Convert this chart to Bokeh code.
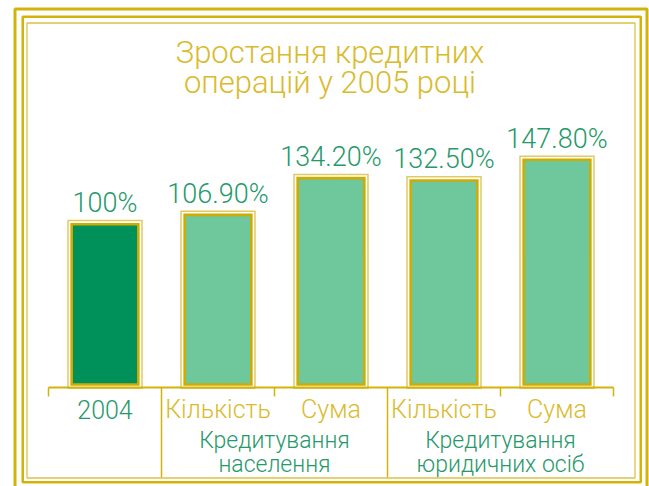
import numpy as np
from bokeh.plotting import figure
from bokeh.models import FactorRange, Range1d, ColumnDataSource, BoxAnnotation, Label
from bokeh.core.properties import value
from bokeh.embed import file_html
from bokeh.resources import INLINE

# ---------------- data ----------------
title_lines = ["Зростання кредитних", "операцій у 2005 році"]
groups = ["2004", "Кредитування населення", "Кредитування населення",
          "Кредитування юридичних осіб", "Кредитування юридичних осіб"]
items = ["2004", "Кількість", "Сума", "Кількість", "Сума"]
values = [100.0, 106.9, 134.2, 132.5, 147.8]
value_labels = ["100%", "106.90%", "134.20%", "132.50%", "147.80%"]
group_names = ["Кредитування населення", "Кредитування юридичних осіб"]
group_line1 = ["Кредитування", "Кредитування"]
group_line2 = ["населення", "юридичних осіб"]

# ---------------- style ----------------
GOLD = "#d3b20a"
GOLD_BAR = "#cfac00"
GOLD_LIGHT = "#e2ca62"
GOLD_INNER = "#dcc24a"
GOLD_TEXT = "#d9bb2c"
GREEN_TEXT = "#26996a"
DARK_FILL = "#00915a"
LIGHT_FILL = "#6fc79c"
FONT_NAME = "Roboto Light"
FONT = value(FONT_NAME)

AXIS_Y = -21.2
BAR_BASE = -19.0
H = 486

factors = list(zip(groups, items))
bar_fill = [DARK_FILL] + [LIGHT_FILL] * (len(items) - 1)
cat_color = [GREEN_TEXT] + [GOLD_TEXT] * (len(items) - 1)

src = ColumnDataSource(dict(x=factors, top=values, lab=value_labels,
                            fill=bar_fill, item=items, ccol=cat_color))

x_range = FactorRange(*factors, factor_padding=0, group_padding=0, subgroup_padding=0,
                      range_padding=0.3186, range_padding_units="absolute")
p = figure(width=649, height=H, x_range=x_range, y_range=Range1d(-94.72, 266.08),
           output_backend="svg", toolbar_location=None, min_border=0,
           min_border_left=12, x_axis_location=None, y_axis_location=None)
p.grid.visible = False
p.outline_line_color = None
p.background_fill_color = "white"
p.border_fill_color = "white"

# frames (screen units relative to plot frame: x from left, y from bottom)
for l, r, t, b, w, c in [(2.5, 634.5, 477.5, -3, 3, GOLD),
                         (10.25, 628.25, 469.75, 4.25, 2.5, GOLD),
                         (14.5, 622.5, 463.5, 8.5, 1.3, GOLD_INNER)]:
    p.add_layout(BoxAnnotation(left=l, right=r, top=t, bottom=b,
                               left_units="screen", right_units="screen",
                               top_units="screen", bottom_units="screen",
                               fill_color=None, fill_alpha=0,
                               line_color=c, line_width=w, line_alpha=1))

# bars: light ring, white gap, gold border + fill
W = 0.59
p.vbar(x="x", top="top", bottom=BAR_BASE, width=W, source=src, fill_color=None,
       line_color=GOLD_LIGHT, line_width=8.8, line_join="miter")
p.vbar(x="x", top="top", bottom=BAR_BASE, width=W, source=src, fill_color=None,
       line_color="white", line_width=5.8, line_join="miter")
p.vbar(x="x", top="top", bottom=BAR_BASE, width=W, source=src, fill_color="fill",
       line_color=GOLD_BAR, line_width=2.6, line_join="miter")

# value labels
p.text(x="x", y="top", text="lab", source=src, text_align="center",
       text_baseline="alphabetic", y_offset=-21, text_font=FONT,
       text_font_size="27px", text_color=GREEN_TEXT)

# axis line, ticks and separators
n = len(items)
bounds = list(range(n + 1))
seps = [i for i in range(1, n) if groups[i] != groups[i - 1]]
tick_len = [90 if i in seps else 9 for i in bounds]
p.segment(x0=[0], y0=[AXIS_Y], x1=[n], y1=[AXIS_Y], line_color=GOLD, line_width=2)
p.ray(x=bounds, y=[AXIS_Y] * len(bounds), length=tick_len, length_units="screen",
      angle=-np.pi / 2, line_color=GOLD, line_width=1.5)

# category labels
p.text(x="x", y=AXIS_Y, text="item", source=src, text_align="center",
       text_baseline="alphabetic", y_offset=22, text_font=FONT,
       text_font_size="25px", text_color="ccol")

# group labels
gsrc = ColumnDataSource(dict(x=group_names, l1=group_line1, l2=group_line2))
p.text(x="x", y=AXIS_Y, text="l1", source=gsrc, text_align="center",
       text_baseline="alphabetic", y_offset=53, text_font=FONT,
       text_font_size="23px", text_color=GREEN_TEXT)
p.text(x="x", y=AXIS_Y, text="l2", source=gsrc, text_align="center",
       text_baseline="alphabetic", y_offset=77, text_font=FONT,
       text_font_size="23px", text_color=GREEN_TEXT)

# title
for line, ty in zip(title_lines, [434, 404.5]):
    p.add_layout(Label(x=317.5, y=ty, x_units="screen", y_units="screen", text=line,
                       text_align="center", text_baseline="alphabetic",
                       text_font=FONT_NAME, text_font_size="31px",
                       text_color=GOLD_TEXT))

open("out.html", "w").write(file_html(p, INLINE))
